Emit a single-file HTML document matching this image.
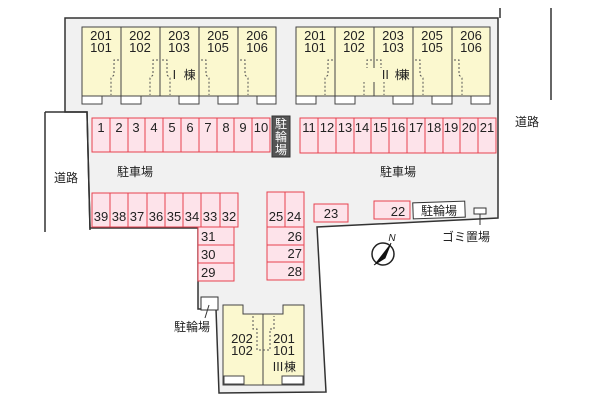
<!DOCTYPE html>
<html><head><meta charset="utf-8"><style>
body{margin:0;background:#fff}
svg{display:block}
text{font-family:"Liberation Sans","Noto Sans CJK JP",sans-serif;fill:#222}
</style></head><body>
<svg width="600" height="400" viewBox="0 0 600 400">
<!-- lot -->
<path d="M65,18 L498,18 L498,218 L317,227 L326,392 L219,393 L216,309 L198,309 L198,228 L90,228 L87,112 L65,112 Z" fill="#f1f1f1" stroke="#333" stroke-width="1.5"/>
<path d="M45,112 L87,112 L90,230" fill="none" stroke="#333" stroke-width="1.5"/>
<line x1="45" y1="112" x2="45" y2="232" stroke="#333" stroke-width="1.5"/>
<line x1="500" y1="8" x2="500" y2="18" stroke="#333" stroke-width="1.5"/>
<line x1="551" y1="8" x2="551" y2="100" stroke="#333" stroke-width="1.5"/>

<!-- Building I -->
<g id="b1">
<rect x="82" y="27" width="194" height="69" fill="#fbf8cf" stroke="#444"/>
<g stroke="#444"><line x1="121" y1="27" x2="121" y2="96"/><line x1="160" y1="27" x2="160" y2="96"/><line x1="199" y1="27" x2="199" y2="96"/><line x1="238" y1="27" x2="238" y2="96"/></g>
<g fill="#fff" stroke="#444"><rect x="82" y="96" width="20" height="8"/><rect x="121" y="96" width="20" height="8"/><rect x="179" y="96" width="20" height="8"/><rect x="218" y="96" width="20" height="8"/><rect x="257" y="96" width="19" height="8"/></g>
<g fill="none" stroke="#555" stroke-dasharray="2,2"><path d="M119,60 L114,60 L114,75 L111,78 L111,95"/><path d="M158,60 L153,60 L153,75 L150,78 L150,95"/><path d="M162,60 L167,60 L167,75 L170,78 L170,95"/><path d="M201,60 L206,60 L206,75 L209,78 L209,95"/><path d="M240,60 L245,60 L245,75 L248,78 L248,95"/></g>
<g font-size="13" text-anchor="middle"><text x="101" y="40">201</text><text x="101" y="52">101</text><text x="140" y="40">202</text><text x="140" y="52">102</text><text x="179" y="40">203</text><text x="179" y="52">103</text><text x="218" y="40">205</text><text x="218" y="52">105</text><text x="257" y="40">206</text><text x="257" y="52">106</text></g>
<text x="182" y="79" font-size="12" text-anchor="middle">Ⅰ 棟</text>
</g>
<use href="#b1" x="214"/>
<rect x="360" y="68" width="45" height="14" fill="#fbf8cf"/>
<text x="393" y="79" font-size="12" text-anchor="middle">Ⅱ 棟</text>

<!-- parking 1-10 -->
<g fill="#fde3ea" stroke="#e8424f" stroke-width="1">
<rect x="92" y="118" width="178" height="34"/>
<rect x="300" y="118" width="196" height="35"/>
<rect x="92" y="193" width="146" height="34"/>
<rect x="198" y="227" width="36" height="54"/>
<rect x="267" y="192" width="37" height="35"/>
<rect x="267" y="227" width="37" height="53"/>
<rect x="314" y="204" width="34" height="18"/>
<rect x="374" y="201" width="36" height="18"/>
</g>
<g stroke="#e8424f">
<line x1="110" y1="118" x2="110" y2="152"/><line x1="128" y1="118" x2="128" y2="152"/><line x1="145" y1="118" x2="145" y2="152"/><line x1="163" y1="118" x2="163" y2="152"/><line x1="181" y1="118" x2="181" y2="152"/><line x1="199" y1="118" x2="199" y2="152"/><line x1="217" y1="118" x2="217" y2="152"/><line x1="234" y1="118" x2="234" y2="152"/><line x1="252" y1="118" x2="252" y2="152"/>
<line x1="318" y1="118" x2="318" y2="153"/><line x1="336" y1="118" x2="336" y2="153"/><line x1="354" y1="118" x2="354" y2="153"/><line x1="371" y1="118" x2="371" y2="153"/><line x1="389" y1="118" x2="389" y2="153"/><line x1="407" y1="118" x2="407" y2="153"/><line x1="425" y1="118" x2="425" y2="153"/><line x1="443" y1="118" x2="443" y2="153"/><line x1="460" y1="118" x2="460" y2="153"/><line x1="478" y1="118" x2="478" y2="153"/>
<line x1="110" y1="193" x2="110" y2="227"/><line x1="128" y1="193" x2="128" y2="227"/><line x1="147" y1="193" x2="147" y2="227"/><line x1="165" y1="193" x2="165" y2="227"/><line x1="183" y1="193" x2="183" y2="227"/><line x1="201" y1="193" x2="201" y2="227"/><line x1="220" y1="193" x2="220" y2="227"/>
<line x1="198" y1="245" x2="234" y2="245"/><line x1="198" y1="263" x2="234" y2="263"/>
<line x1="285" y1="192" x2="285" y2="227"/>
<line x1="267" y1="245" x2="304" y2="245"/><line x1="267" y1="262" x2="304" y2="262"/>
</g>
<g font-size="13" text-anchor="middle">
<text x="101" y="132">1</text><text x="119" y="132">2</text><text x="136" y="132">3</text><text x="154" y="132">4</text><text x="172" y="132">5</text><text x="190" y="132">6</text><text x="208" y="132">7</text><text x="226" y="132">8</text><text x="243" y="132">9</text><text x="261" y="132">10</text>
<text x="309" y="132">11</text><text x="327" y="132">12</text><text x="345" y="132">13</text><text x="362" y="132">14</text><text x="380" y="132">15</text><text x="398" y="132">16</text><text x="416" y="132">17</text><text x="434" y="132">18</text><text x="451" y="132">19</text><text x="469" y="132">20</text><text x="487" y="132">21</text>
<text x="101" y="221">39</text><text x="119" y="221">38</text><text x="137" y="221">37</text><text x="156" y="221">36</text><text x="174" y="221">35</text><text x="192" y="221">34</text><text x="210" y="221">33</text><text x="229" y="221">32</text>
<text x="276" y="221">25</text><text x="294" y="221">24</text>
<text x="331" y="218">23</text><text x="398" y="216">22</text>
</g>
<g font-size="13"><text x="201" y="241">31</text><text x="201" y="259">30</text><text x="201" y="277">29</text></g>
<g font-size="13" text-anchor="end"><text x="302" y="241">26</text><text x="302" y="258">27</text><text x="302" y="276">28</text></g>

<!-- bike boxes -->
<rect x="272" y="116" width="18" height="41" fill="#555" stroke="#333"/>
<g font-size="12" fill="#fff" text-anchor="middle" style="fill:#fff"><text x="281" y="128" style="fill:#fff">駐</text><text x="281" y="141" style="fill:#fff">輪</text><text x="281" y="154" style="fill:#fff">場</text></g>
<rect x="413" y="202" width="52" height="16" fill="#fff" stroke="#333" transform="rotate(-2 439 210)"/>
<text x="439" y="215" font-size="12" text-anchor="middle">駐輪場</text>
<rect x="474" y="208" width="12" height="6" fill="#fff" stroke="#333"/>
<line x1="480" y1="214" x2="480" y2="225" stroke="#333"/>
<text x="466" y="241" font-size="12" text-anchor="middle">ゴミ置場</text>
<rect x="201" y="297" width="17" height="13" fill="#fff" stroke="#333"/>
<line x1="209" y1="305" x2="205" y2="318" stroke="#333"/>
<text x="192" y="331" font-size="12" text-anchor="middle">駐輪場</text>

<!-- labels -->
<g font-size="12" text-anchor="middle">
<text x="135" y="176">駐車場</text><text x="398" y="176">駐車場</text>
<text x="66" y="182">道路</text><text x="527" y="126">道路</text>
</g>

<!-- compass -->
<circle cx="383" cy="254" r="11" fill="#fff" stroke="#222" stroke-width="1.5"/>
<path d="M391,243 L374,265 L385,258 Z" fill="#111"/>
<path d="M391,243 L385,258 L374,265" fill="none" stroke="#111"/>
<text x="392" y="241" font-size="10" font-style="italic" text-anchor="middle">N</text>

<!-- Building III -->
<path d="M223,305 L243,305 L243,314 L283,314 L283,305 L304,305 L304,385 L223,385 Z" fill="#fbf8cf" stroke="#444"/>
<line x1="263" y1="314" x2="263" y2="385" stroke="#444"/>
<rect x="224" y="376" width="20" height="8" fill="#fff" stroke="#444"/>
<rect x="282" y="376" width="21" height="8" fill="#fff" stroke="#444"/>
<path d="M253,316 L253,329 L257,329 L257,350 L270,350 L270,329 L274,329 L274,316" fill="none" stroke="#555" stroke-dasharray="2,2"/>
<g font-size="13" text-anchor="middle"><text x="242" y="343">202</text><text x="242" y="355">102</text><text x="284" y="343">201</text><text x="284" y="355">101</text></g>
<text x="284" y="371" font-size="12" text-anchor="middle">Ⅲ棟</text>
</svg>
</body></html>
